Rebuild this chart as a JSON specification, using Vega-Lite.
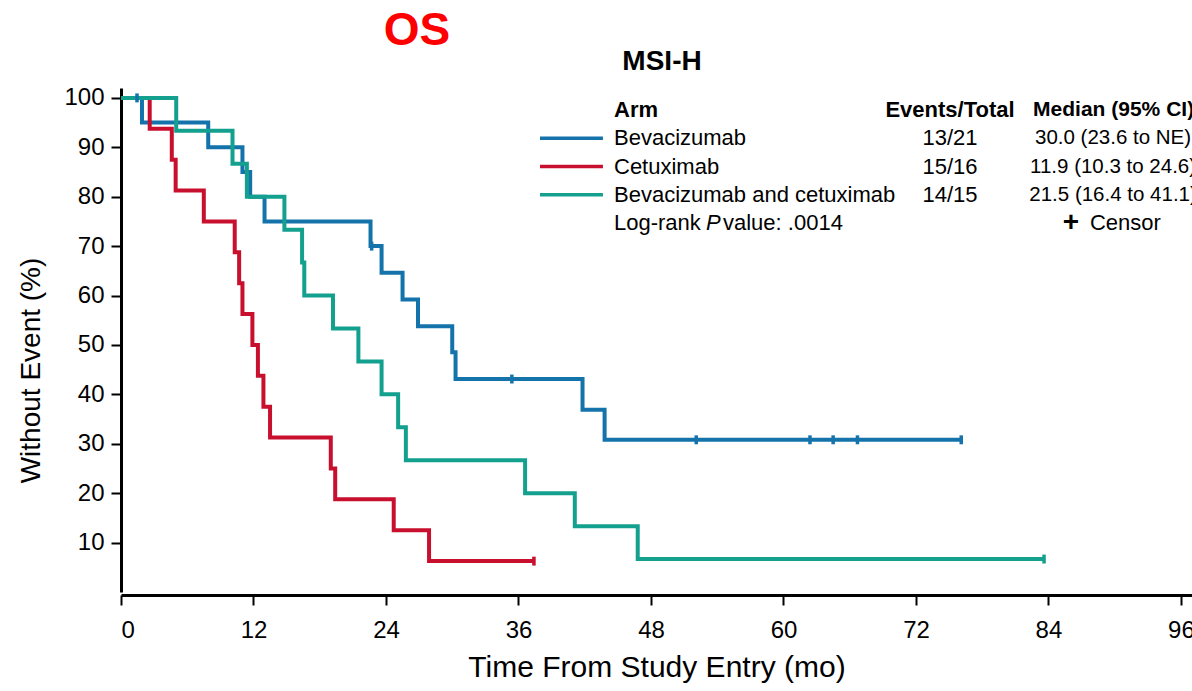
{
  "$schema": "https://vega.github.io/schema/vega-lite/v6.json",
  "width": 1071,
  "height": 504,
  "autosize": "none",
  "padding": {"left": 121, "top": 88, "right": 0, "bottom": 99},
  "background": "white",
  "config": {
    "font": "Liberation Sans",
    "view": {"stroke": null},
    "axis": {
      "grid": false,
      "domainColor": "black",
      "domainWidth": 3,
      "tickColor": "black",
      "tickWidth": 2,
      "tickSize": 10,
      "labelColor": "black",
      "labelFontSize": 24,
      "titleColor": "black",
      "titleFontSize": 30,
      "titleFontWeight": "normal"
    }
  },
  "datasets": {
    "km": [
      {"arm": "Bevacizumab", "t": 0, "s": 100},
      {"arm": "Bevacizumab", "t": 1.9, "s": 95},
      {"arm": "Bevacizumab", "t": 7.9, "s": 90},
      {"arm": "Bevacizumab", "t": 11.0, "s": 85},
      {"arm": "Bevacizumab", "t": 11.7, "s": 80},
      {"arm": "Bevacizumab", "t": 13.0, "s": 75},
      {"arm": "Bevacizumab", "t": 22.6, "s": 70},
      {"arm": "Bevacizumab", "t": 23.6, "s": 64.6},
      {"arm": "Bevacizumab", "t": 25.5, "s": 59.2},
      {"arm": "Bevacizumab", "t": 26.9, "s": 53.8},
      {"arm": "Bevacizumab", "t": 30.0, "s": 48.5},
      {"arm": "Bevacizumab", "t": 30.3, "s": 43.1},
      {"arm": "Bevacizumab", "t": 41.8, "s": 36.9},
      {"arm": "Bevacizumab", "t": 43.8, "s": 30.8},
      {"arm": "Bevacizumab", "t": 76.1, "s": 30.8},
      {"arm": "Cetuximab", "t": 0, "s": 100},
      {"arm": "Cetuximab", "t": 2.6, "s": 93.75},
      {"arm": "Cetuximab", "t": 4.6, "s": 87.5},
      {"arm": "Cetuximab", "t": 4.95, "s": 81.25},
      {"arm": "Cetuximab", "t": 7.5, "s": 75},
      {"arm": "Cetuximab", "t": 10.3, "s": 68.75},
      {"arm": "Cetuximab", "t": 10.7, "s": 62.5},
      {"arm": "Cetuximab", "t": 11.0, "s": 56.25},
      {"arm": "Cetuximab", "t": 11.9, "s": 50},
      {"arm": "Cetuximab", "t": 12.4, "s": 43.75},
      {"arm": "Cetuximab", "t": 12.9, "s": 37.5},
      {"arm": "Cetuximab", "t": 13.5, "s": 31.25},
      {"arm": "Cetuximab", "t": 19.0, "s": 25},
      {"arm": "Cetuximab", "t": 19.4, "s": 18.75},
      {"arm": "Cetuximab", "t": 24.7, "s": 12.5},
      {"arm": "Cetuximab", "t": 27.9, "s": 6.25},
      {"arm": "Cetuximab", "t": 37.4, "s": 6.25},
      {"arm": "Bevacizumab and cetuximab", "t": 0, "s": 100},
      {"arm": "Bevacizumab and cetuximab", "t": 5.0, "s": 93.33},
      {"arm": "Bevacizumab and cetuximab", "t": 10.1, "s": 86.67},
      {"arm": "Bevacizumab and cetuximab", "t": 11.4, "s": 80},
      {"arm": "Bevacizumab and cetuximab", "t": 14.8, "s": 73.33},
      {"arm": "Bevacizumab and cetuximab", "t": 16.4, "s": 66.67},
      {"arm": "Bevacizumab and cetuximab", "t": 16.6, "s": 60},
      {"arm": "Bevacizumab and cetuximab", "t": 19.2, "s": 53.33},
      {"arm": "Bevacizumab and cetuximab", "t": 21.5, "s": 46.67},
      {"arm": "Bevacizumab and cetuximab", "t": 23.6, "s": 40},
      {"arm": "Bevacizumab and cetuximab", "t": 25.1, "s": 33.33},
      {"arm": "Bevacizumab and cetuximab", "t": 25.8, "s": 26.67},
      {"arm": "Bevacizumab and cetuximab", "t": 36.6, "s": 20},
      {"arm": "Bevacizumab and cetuximab", "t": 41.1, "s": 13.33},
      {"arm": "Bevacizumab and cetuximab", "t": 46.8, "s": 6.67},
      {"arm": "Bevacizumab and cetuximab", "t": 83.6, "s": 6.67}
    ],
    "censored": [
      {"arm": "Bevacizumab", "t": 1.45, "s": 100},
      {"arm": "Bevacizumab", "t": 22.7, "s": 70},
      {"arm": "Bevacizumab", "t": 35.4, "s": 43.1},
      {"arm": "Bevacizumab", "t": 52.1, "s": 30.8},
      {"arm": "Bevacizumab", "t": 62.4, "s": 30.8},
      {"arm": "Bevacizumab", "t": 64.5, "s": 30.8},
      {"arm": "Bevacizumab", "t": 66.7, "s": 30.8},
      {"arm": "Bevacizumab", "t": 76.1, "s": 30.8},
      {"arm": "Cetuximab", "t": 37.4, "s": 6.25},
      {"arm": "Bevacizumab and cetuximab", "t": 83.6, "s": 6.67}
    ],
    "arms": [
      {"arm": "Bevacizumab", "events": "13/21", "median": "30.0 (23.6 to NE)"},
      {"arm": "Cetuximab", "events": "15/16", "median": "11.9 (10.3 to 24.6)"},
      {"arm": "Bevacizumab and cetuximab", "events": "14/15", "median": "21.5 (16.4 to 41.1)"}
    ]
  },
  "resolve": {"scale": {"y": "independent"}},
  "layer": [
    {
      "layer": [
        {
          "data": {"name": "km"},
          "mark": {"type": "line", "interpolate": "step-after", "strokeWidth": 4},
          "encoding": {
            "x": {
              "field": "t",
              "type": "quantitative",
              "scale": {"domain": [0, 97], "nice": false},
              "axis": {
                "values": [0, 12, 24, 36, 48, 60, 72, 84, 96],
                "title": "Time From Study Entry (mo)",
                "offset": 3,
                "labelPadding": 13,
                "titlePadding": 10
              }
            },
            "y": {
              "field": "s",
              "type": "quantitative",
              "scale": {"domain": [0, 102], "nice": false},
              "axis": {
                "values": [10, 20, 30, 40, 50, 60, 70, 80, 90, 100],
                "title": "Without Event (%)",
                "titleFontSize": 28,
                "labelPadding": 7,
                "titleX": -90,
                "titleY": 282,
                "titleAlign": "center",
                "titleBaseline": "middle",
                "titleAngle": -90
              }
            },
            "color": {
              "field": "arm",
              "type": "nominal",
              "scale": {
                "domain": ["Bevacizumab", "Cetuximab", "Bevacizumab and cetuximab"],
                "range": ["#1473aa", "#c8102e", "#13a08f"]
              },
              "legend": null
            }
          }
        },
        {
          "data": {"name": "censored"},
          "mark": {"type": "point", "shape": "M0,-1V1", "size": 80, "strokeWidth": 3.5, "filled": false, "opacity": 1},
          "encoding": {
            "x": {"field": "t", "type": "quantitative"},
            "y": {"field": "s", "type": "quantitative"},
            "color": {"field": "arm", "type": "nominal", "legend": null}
          }
        },
        {
          "data": {"values": [{}]},
          "mark": {"type": "text", "text": "OS", "fontSize": 46, "fontWeight": "bold", "color": "#ff0000", "align": "center", "baseline": "middle"},
          "encoding": {
            "x": {"datum": 26.8},
            "y": {"datum": 113.5}
          }
        },
        {
          "data": {"values": [{}]},
          "mark": {"type": "text", "text": "MSI-H", "fontSize": 28, "fontWeight": "bold", "color": "black", "align": "center", "baseline": "middle"},
          "encoding": {
            "x": {"datum": 49.0},
            "y": {"datum": 107.3}
          }
        }
      ]
    },
    {
      "data": {"name": "arms"},
      "layer": [
        {
          "mark": {"type": "rule", "strokeWidth": 3.5},
          "encoding": {
            "x": {"datum": 37.95},
            "x2": {"datum": 43.65},
            "y": {
              "field": "arm",
              "type": "nominal",
              "scale": {
                "type": "point",
                "padding": 0,
                "domain": ["head", "Bevacizumab", "Cetuximab", "Bevacizumab and cetuximab", "foot"],
                "range": [22, 135]
              },
              "axis": null
            },
            "color": {"field": "arm", "type": "nominal", "legend": null}
          }
        },
        {
          "mark": {"type": "text", "align": "left", "baseline": "middle", "fontSize": 22, "color": "black"},
          "encoding": {
            "x": {"datum": 44.65},
            "y": {"field": "arm", "type": "nominal"},
            "text": {"field": "arm"}
          }
        },
        {
          "mark": {"type": "text", "align": "center", "baseline": "middle", "fontSize": 22, "color": "black"},
          "encoding": {
            "x": {"datum": 75.08},
            "y": {"field": "arm", "type": "nominal"},
            "text": {"field": "events"}
          }
        },
        {
          "mark": {"type": "text", "align": "center", "baseline": "middle", "fontSize": 20.5, "color": "black"},
          "encoding": {
            "x": {"datum": 89.85},
            "y": {"field": "arm", "type": "nominal"},
            "text": {"field": "median"}
          }
        },
        {
          "data": {"values": [{}]},
          "mark": {"type": "text", "text": "Arm", "align": "left", "baseline": "middle", "fontSize": 22, "fontWeight": "bold", "color": "black"},
          "encoding": {"x": {"datum": 44.65}, "y": {"datum": "head", "type": "nominal"}}
        },
        {
          "data": {"values": [{}]},
          "mark": {"type": "text", "text": "Events/Total", "align": "center", "baseline": "middle", "fontSize": 22, "fontWeight": "bold", "color": "black"},
          "encoding": {"x": {"datum": 75.08}, "y": {"datum": "head", "type": "nominal"}}
        },
        {
          "data": {"values": [{}]},
          "mark": {"type": "text", "text": "Median (95% CI)", "align": "center", "baseline": "middle", "fontSize": 21, "fontWeight": "bold", "color": "black"},
          "encoding": {"x": {"datum": 89.9}, "y": {"datum": "head", "type": "nominal"}}
        },
        {
          "data": {"values": [{}]},
          "mark": {"type": "text", "text": "Log-rank", "align": "left", "baseline": "middle", "fontSize": 22, "color": "black"},
          "encoding": {"x": {"datum": 44.65}, "y": {"datum": "foot", "type": "nominal"}}
        },
        {
          "data": {"values": [{}]},
          "mark": {"type": "text", "text": "P", "align": "left", "baseline": "middle", "fontSize": 22, "fontStyle": "italic", "color": "black", "dx": 92},
          "encoding": {"x": {"datum": 44.65}, "y": {"datum": "foot", "type": "nominal"}}
        },
        {
          "data": {"values": [{}]},
          "mark": {"type": "text", "text": "value: .0014", "align": "left", "baseline": "middle", "fontSize": 22, "color": "black", "dx": 109},
          "encoding": {"x": {"datum": 44.65}, "y": {"datum": "foot", "type": "nominal"}}
        },
        {
          "data": {"values": [{}]},
          "mark": {"type": "text", "text": "+", "align": "center", "baseline": "middle", "fontSize": 28, "fontWeight": "bold", "color": "black"},
          "encoding": {"x": {"datum": 86.04}, "y": {"datum": "foot", "type": "nominal"}}
        },
        {
          "data": {"values": [{}]},
          "mark": {"type": "text", "text": "Censor", "align": "left", "baseline": "middle", "fontSize": 22, "color": "black"},
          "encoding": {"x": {"datum": 87.76}, "y": {"datum": "foot", "type": "nominal"}}
        }
      ]
    }
  ]
}
